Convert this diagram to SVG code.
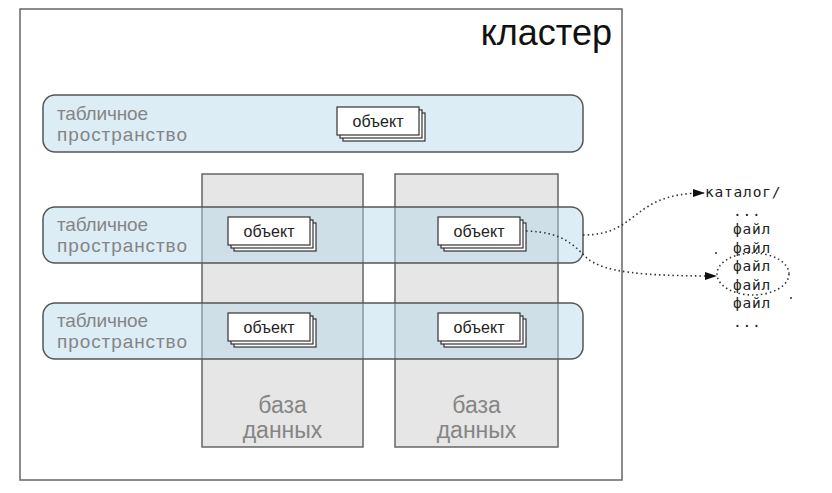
<svg xmlns="http://www.w3.org/2000/svg" width="832" height="493" viewBox="0 0 832 493">
<style>
.cluster{fill:#fff;stroke:#666;stroke-width:1.5}
.db{fill:#e6e6e6;stroke:#666;stroke-width:1.5}
.ts{fill:rgb(180,215,235);fill-opacity:0.45;stroke:#555;stroke-width:1.5}
.ob{fill:#fff;stroke:#333;stroke-width:1.2}
.lbl{font-family:"Liberation Sans",Arial,sans-serif;fill:#858585}
.ts-t{font-size:19px}
.db-t{font-size:23px;text-anchor:middle}
.ot{font-family:"Liberation Sans",Arial,sans-serif;font-size:16px;fill:#222;text-anchor:middle}
.mono{font-family:"DejaVu Sans Mono","Liberation Mono",monospace;font-size:14.5px;letter-spacing:0.8px;fill:#222}
.conn{fill:none;stroke:#333;stroke-width:1.6;stroke-dasharray:1.5 3}
</style>
<defs>
<marker id="ah" viewBox="0 0 12 8" refX="11" refY="4" markerWidth="12" markerHeight="8" markerUnits="userSpaceOnUse" orient="auto">
<path d="M0,0 L12,4 L0,8 Z" fill="#111"/>
</marker>
<g id="stack">
<rect class="ob" x="6" y="6" width="82" height="28"/>
<rect class="ob" x="3" y="3" width="82" height="28"/>
<rect class="ob" x="0" y="0" width="82" height="28"/>
</g>
</defs>
<g id="cluster">
<rect class="cluster" x="20" y="9" width="602" height="471"/>
<text x="612" y="45" font-family="Liberation Sans,Arial,sans-serif" font-size="36" fill="#111" text-anchor="end">кластер</text>
</g>
<g id="db1">
<rect class="db" x="202" y="174" width="161" height="273"/>
<text class="lbl db-t" x="282.5" y="413">база</text>
<text class="lbl db-t" x="282.5" y="438">данных</text>
</g>
<g id="db2">
<rect class="db" x="395" y="174" width="163" height="273"/>
<text class="lbl db-t" x="476.5" y="413">база</text>
<text class="lbl db-t" x="476.5" y="438">данных</text>
</g>
<g id="ts1">
<rect class="ts" x="43" y="95" width="540" height="57" rx="12"/>
<text class="lbl ts-t" x="57" y="120" textLength="91">табличное</text>
<text class="lbl ts-t" x="57" y="141" textLength="130">пространство</text>
</g>
<g id="ts2">
<rect class="ts" x="43" y="207" width="540" height="56" rx="12"/>
<text class="lbl ts-t" x="57" y="231" textLength="91">табличное</text>
<text class="lbl ts-t" x="57" y="252" textLength="130">пространство</text>
</g>
<g id="ts3">
<rect class="ts" x="43" y="303" width="540" height="56" rx="12"/>
<text class="lbl ts-t" x="57" y="327" textLength="91">табличное</text>
<text class="lbl ts-t" x="57" y="348" textLength="130">пространство</text>
</g>
<g id="obj1">
<use href="#stack" x="337" y="107"/>
<text class="ot" x="378" y="127">объект</text>
</g>
<g id="obj2">
<use href="#stack" x="228" y="217"/>
<text class="ot" x="269" y="237">объект</text>
</g>
<g id="obj3">
<use href="#stack" x="438" y="217"/>
<text class="ot" x="479" y="237">объект</text>
</g>
<g id="obj4">
<use href="#stack" x="228" y="313"/>
<text class="ot" x="269" y="333">объект</text>
</g>
<g id="obj5">
<use href="#stack" x="438" y="313"/>
<text class="ot" x="479" y="333">объект</text>
</g>
<g id="connectors">
<path class="conn" d="M583,235 C640,235 630,193 704,193" marker-end="url(#ah)"/>
<path class="conn" d="M526,231 C565,232 575,247 588,259 C605,272 640,276 716,276" marker-end="url(#ah)"/>
<ellipse class="conn" cx="753" cy="274" rx="36" ry="21"/>
</g>
<g id="files">
<text class="mono" x="705" y="197">каталог/</text>
<text class="mono" x="733" y="215.5">...</text>
<text class="mono" x="733" y="234">файл</text>
<text class="mono" x="733" y="252.5">файл</text>
<text class="mono" x="733" y="271">файл</text>
<text class="mono" x="733" y="289.5">файл</text>
<text class="mono" x="733" y="308">файл</text>
<text class="mono" x="733" y="326.5">...</text>
<circle cx="716" cy="253" r="1" fill="#333"/>
<circle cx="791" cy="298" r="1" fill="#333"/>
</g>
</svg>
